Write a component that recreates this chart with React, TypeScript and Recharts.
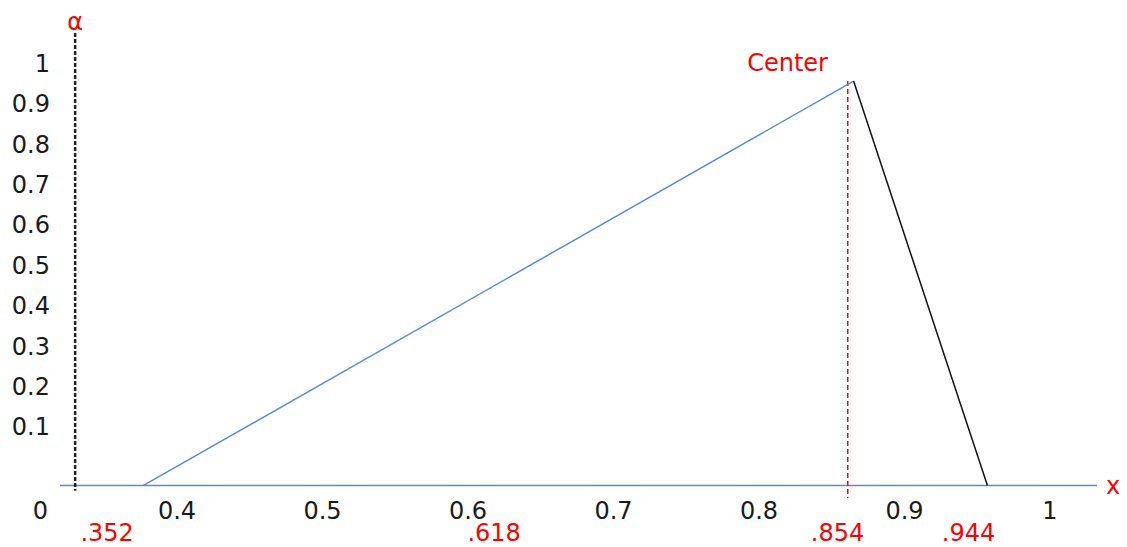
import React from 'react';
import {
  ComposedChart,
  Line,
  XAxis,
  YAxis,
  ReferenceLine,
  ReferenceDot,
  Label,
} from 'recharts';

// values
const xTicks = [0.4, 0.5, 0.6, 0.7, 0.8, 0.9, 1];
const markTicks = [0.352, 0.618, 0.854, 0.944];
const alphaTicks = [0.1, 0.2, 0.3, 0.4, 0.5, 0.6, 0.7, 0.8, 0.9, 1];

const leftEdge = [
  { x: 0.377, a: -0.045 },
  { x: 0.865, a: 0.956 },
];
const rightEdge = [
  { x: 0.865, a: 0.956 },
  { x: 0.957, a: -0.045 },
];

const baseAlpha = -0.045;
const alphaAxisX = 0.33;
const centerX = 0.861;
const peakAlpha = 0.956;

const RED = '#ff0000';
const BLUE = '#5b8bd0';
const FONT = '"DejaVu Sans", sans-serif';

const fmtMark = (v: number) => v.toFixed(3).replace(/^0/, '');

export default function App() {
  return (
    <div style={{ position: 'absolute', left: 0, top: 0, fontFamily: FONT }}>
      <ComposedChart
        width={1127}
        height={547}
        margin={{ top: 31, right: 30, bottom: 0, left: 0 }}
      >
        <XAxis
          type="number"
          dataKey="x"
          domain={[0.3196, 1.0323]}
          allowDataOverflow
          ticks={xTicks}
          interval={0}
          axisLine={false}
          tickLine={false}
          tickSize={0}
          tickMargin={2}
          height={22}
          tick={{ fill: '#1a1a1a', fontSize: 24, fontFamily: FONT }}
        >
          <Label value="0" position="left" offset={12} fill="#1a1a1a" fontSize={24} />
        </XAxis>
        <XAxis
          xAxisId="marks"
          type="number"
          dataKey="x"
          domain={[0.3196, 1.0323]}
          allowDataOverflow
          ticks={markTicks}
          interval={0}
          tickFormatter={fmtMark}
          axisLine={false}
          tickLine={false}
          tickSize={0}
          tickMargin={2}
          height={25.4}
          tick={{ fill: RED, fontSize: 24, fontFamily: FONT }}
        />
        <YAxis
          type="number"
          domain={[-0.08, 1.08]}
          allowDataOverflow
          ticks={alphaTicks}
          interval={0}
          axisLine={false}
          tickLine={false}
          tickSize={0}
          tickMargin={10}
          width={60}
          tick={{ fill: '#1a1a1a', fontSize: 24, fontFamily: FONT }}
        />

        <ReferenceLine
          y={baseAlpha}
          stroke={BLUE}
          strokeWidth={1.5}
          label={{ value: 'x', position: 'right', offset: 9, fill: RED, fontSize: 24 }}
        />
        <ReferenceLine
          segment={[
            { x: alphaAxisX, y: 1.075 },
            { x: alphaAxisX, y: -0.058 },
          ]}
          stroke="#222"
          strokeWidth={2.5}
          strokeDasharray="4 2"
        />
        <ReferenceLine
          segment={[
            { x: centerX, y: peakAlpha },
            { x: centerX, y: -0.076 },
          ]}
          stroke={RED}
          strokeWidth={1.5}
          strokeDasharray="5 3"
        />

        <Line
          data={leftEdge}
          dataKey="a"
          stroke={BLUE}
          strokeWidth={1.5}
          dot={false}
          isAnimationActive={false}
        />
        <Line
          data={rightEdge}
          dataKey="a"
          stroke="#111"
          strokeWidth={1.5}
          dot={false}
          isAnimationActive={false}
        />

        <ReferenceDot
          x={alphaAxisX}
          y={1.075}
          r={0}
          fill="none"
          stroke="none"
          ifOverflow="visible"
          label={{ value: 'α', position: 'top', offset: 3, fill: RED, fontSize: 24 }}
        />
        <ReferenceDot
          x={0.865}
          y={peakAlpha}
          r={0}
          fill="none"
          stroke="none"
          label={{ value: 'Center', position: 'top', offset: 10, dx: -66, fill: RED, fontSize: 24 }}
        />
      </ComposedChart>
    </div>
  );
}
